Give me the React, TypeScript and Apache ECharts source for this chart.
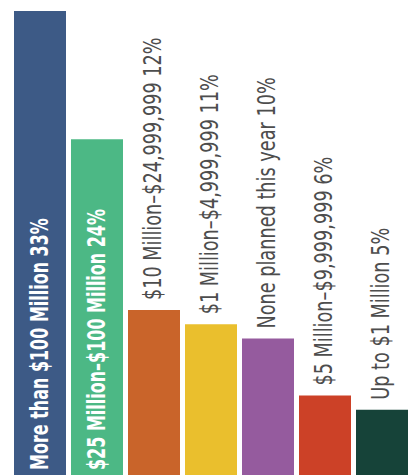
import React, { useEffect, useRef } from "react";
import * as echarts from "echarts";

const categories = [
  "More than $100 Million",
  "$25 Million–$100 Million",
  "$10 Million–$24,999,999",
  "$1 Million–$4,999,999",
  "None planned this year",
  "$5 Million–$9,999,999",
  "Up to $1 Million",
];
const values = [33, 24, 12, 11, 10, 6, 5];
const colors = ["#3d5a86", "#4cb885", "#c9642a", "#eabf2d", "#955b9e", "#cc4127", "#164339"];
const labelInside = [true, true, false, false, false, false, false];

const FONT_FAMILY = "'DejaVu Sans Condensed', 'DejaVu Sans', sans-serif";

export default function App() {
  const ref = useRef<HTMLDivElement>(null);
  useEffect(() => {
    const chart = echarts.init(ref.current!, null, { renderer: "svg" });
    chart.setOption({
      animation: false,
      grid: { left: 11.5, right: 1.5, top: 11, bottom: 0 },
      xAxis: { type: "category", data: categories, show: false },
      yAxis: { type: "value", min: 0, max: 33, show: false },
      series: [
        {
          type: "bar",
          data: values.map((v, i) => ({ value: v, itemStyle: { color: colors[i] } })),
          barWidth: 52,
        },
        {
          type: "custom",
          data: values.map((v, i) => [i, v]),
          encode: { x: 0, y: 1 },
          z: 5,
          renderItem: (params: any, api: any) => {
            const i = params.dataIndex;
            const inside = labelInside[i];
            const top = api.coord([i, api.value(1)]);
            const base = api.coord([i, 0]);
            const y = inside ? base[1] - 11 : top[1] - 10;
            return {
              type: "text",
              x: top[0] - 1,
              y,
              rotation: Math.PI / 2,
              scaleX: inside ? 0.74 : 0.82,
              style: {
                text: `${categories[i]} ${values[i]}%`,
                fill: inside ? "#ffffff" : "#4d4d4d",
                fontSize: 24,
                fontFamily: FONT_FAMILY,
                fontWeight: inside ? "bold" : "normal",
                align: "left",
                verticalAlign: "middle",
              },
            };
          },
        },
      ],
    });
    return () => chart.dispose();
  }, []);
  return (
    <div
      ref={ref}
      style={{ position: "fixed", left: 0, top: 0, width: 412, height: 481, background: "#fff" }}
    />
  );
}
